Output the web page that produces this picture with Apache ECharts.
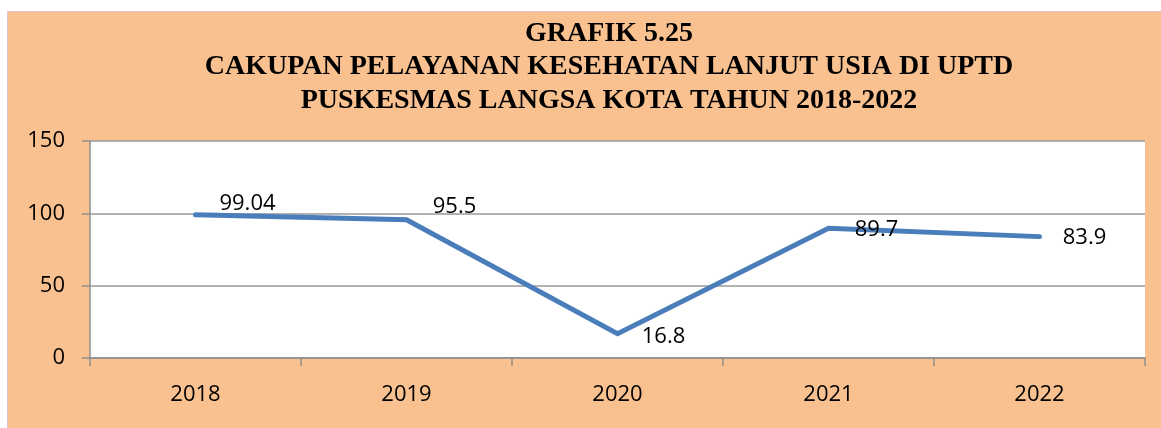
<!DOCTYPE html>
<html>
<head>
<meta charset="utf-8">
<script src="https://cdn.jsdelivr.net/npm/echarts@6/dist/echarts.min.js"></script>
<style>
  html, body { margin: 0; padding: 0; background: #fff; }
  #chart { width: 1161px; height: 428px; }
</style>
</head>
<body>
<div id="chart"></div>
<script>
// data
const years = ['2018', '2019', '2020', '2021', '2022'];
const cakupan = [99.04, 95.5, 16.8, 89.7, 83.9];
const yTicks = [0, 50, 100, 150];

// label nudges (px, relative to the point)
const labelOffsets = [[52, -11], [48, -13], [46, 3], [48, 2], [45, 1]];

const chart = echarts.init(document.getElementById('chart'));

const axisGray = '#8e8e8e';

chart.setOption({
  backgroundColor: '#ffffff',
  animation: false,
  graphic: [{
    type: 'rect',
    left: 7, top: 11, z: -10,
    shape: { width: 1160, height: 420 },
    style: { fill: '#f9c18f', stroke: '#e5c2c8', lineWidth: 1 }
  }],
  title: {
    text: 'GRAFIK 5.25\nCAKUPAN PELAYANAN KESEHATAN LANJUT USIA DI UPTD\nPUSKESMAS LANGSA KOTA TAHUN 2018-2022',
    left: 604, top: 12,
    textAlign: 'center',
    textStyle: {
      fontFamily: '"Liberation Serif", "DejaVu Serif", serif',
      fontWeight: 'bold',
      fontSize: 28,
      lineHeight: 33.5,
      color: '#000'
    }
  },
  grid: {
    left: 90, right: 16, top: 141, bottom: 70,
    show: true, backgroundColor: '#ffffff', borderWidth: 0
  },
  xAxis: {
    type: 'category',
    data: years,
    boundaryGap: true,
    axisLine: { show: true, lineStyle: { color: axisGray, width: 1.5 } },
    axisTick: { show: true, length: 8, lineStyle: { color: axisGray, width: 1.5 } },
    axisLabel: {
      margin: 26,
      fontFamily: '"Open Sans", sans-serif',
      fontSize: 22,
      color: '#000'
    },
    splitLine: { show: false }
  },
  yAxis: {
    type: 'value',
    min: yTicks[0],
    max: yTicks[yTicks.length - 1],
    interval: yTicks[1] - yTicks[0],
    axisLine: { show: true, lineStyle: { color: axisGray, width: 1.5 } },
    axisTick: { show: true, length: 8, lineStyle: { color: axisGray, width: 1.5 } },
    axisLabel: {
      margin: 25,
      fontFamily: '"Open Sans", sans-serif',
      fontSize: 22,
      color: '#000'
    },
    splitLine: { show: true, lineStyle: { color: '#999999', width: 1.5 } }
  },
  series: [{
    type: 'line',
    data: cakupan.map((v, i) => ({
      value: v,
      label: { offset: labelOffsets[i] }
    })),
    symbol: 'circle',
    symbolSize: 0,
    showSymbol: true,
    lineStyle: { color: '#4a7ebb', width: 5, cap: 'round', join: 'miter' },
    itemStyle: { color: '#4a7ebb' },
    label: {
      show: true,
      position: 'inside',
      fontFamily: '"Open Sans", sans-serif',
      fontSize: 22,
      color: '#000',
      formatter: p => String(p.value)
    }
  }]
});
</script>
</body>
</html>
